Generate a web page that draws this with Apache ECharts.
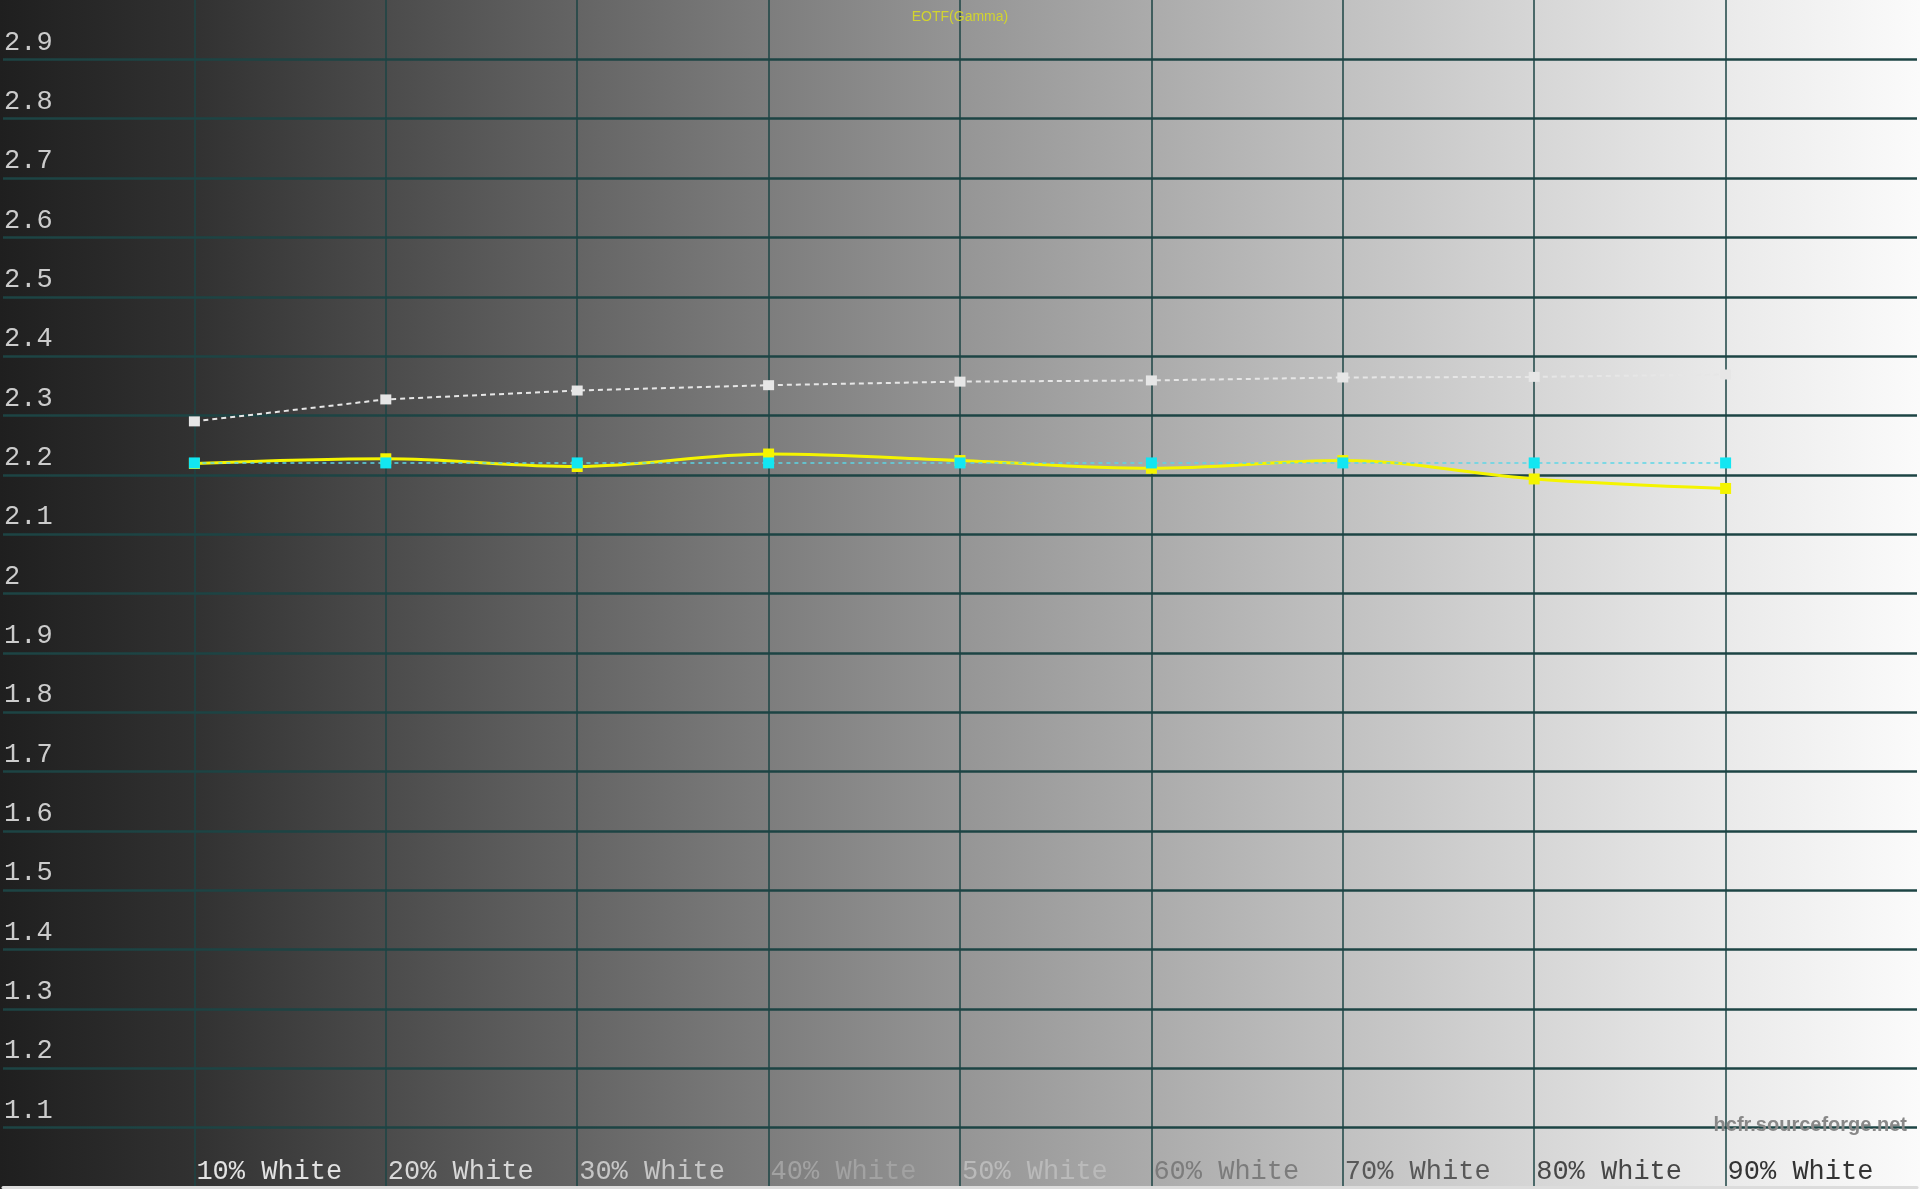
<!DOCTYPE html>
<html>
<head>
<meta charset="utf-8">
<script src="https://cdn.jsdelivr.net/npm/echarts@6/dist/echarts.min.js"></script>
<style>
html,body{margin:0;padding:0;width:1920px;height:1189px;overflow:hidden;}
#c{width:1920px;height:1189px;background:linear-gradient(to right,#1f1f1f 0%,#313131 10%,#4b4b4b 20%,#646464 30%,#7d7d7d 40%,#959595 50%,#ababab 60%,#c1c1c1 70%,#d6d6d6 80%,#eaeaea 90%,#fbfbfb 100%);}
</style>
</head>
<body>
<div id="c"></div>
<script>
// Stimulus levels (% white)
const levels = [10, 20, 30, 40, 50, 60, 70, 80, 90];
const levelLabelColors = ['#e2e2e2', '#d8d8d8', '#c6c6c6', '#a2a2a2', '#bababa', '#7c7c7c', '#585858', '#464646', '#333333'];
// Measured gamma (yellow)
const measured = [2.219, 2.227, 2.214, 2.235, 2.224, 2.211, 2.224, 2.193, 2.177];
// Target gamma (cyan)
const target = [2.22, 2.22, 2.22, 2.22, 2.22, 2.22, 2.22, 2.22, 2.22];
// Reference gamma (white, dashed)
const reference = [2.29, 2.327, 2.342, 2.351, 2.357, 2.359, 2.364, 2.365, 2.369];
const titleText = 'EOTF(Gamma)';
const watermark = 'hcfr.sourceforge.net';

const pairs = arr => levels.map((l, i) => [l, arr[i]]);
const chart = echarts.init(document.getElementById('c'), null, {renderer: 'canvas'});
const gridColor = '#1d4444';
chart.setOption({
  backgroundColor: 'transparent',
  animation: false,
  title: {
    text: titleText, left: 'center', top: 5,
    textStyle: {color: '#d2d42e', fontSize: 14, fontWeight: 'normal', fontFamily: 'Liberation Sans'}
  },
  graphic: [{
    type: 'text', right: 13, top: 1115, z: 100,
    style: {text: watermark, fill: '#888888', font: 'bold 20px "Liberation Sans Narrow", "Liberation Sans"'}
  }],
  grid: {left: 0, right: 0, top: -1, bottom: 2, containLabel: false},
  xAxis: {
    type: 'value', min: 0, max: 100, interval: 10,
    axisLine: {show: true, lineStyle: {color: '#dcdcdc', width: 3}},
    axisTick: {show: false},
    splitLine: {show: true, showMinLine: false, showMaxLine: false, lineStyle: {color: gridColor, width: 1.5}},
    axisLabel: {
      inside: true, margin: 2, align: 'left', padding: [0, 0, 0, 2],
      fontFamily: 'Liberation Mono', fontSize: 27,
      formatter: v => (v > 0 && v < 100) ? v + '% White' : '',
      color: v => { const i = levels.indexOf(Math.round(+v)); return i >= 0 ? levelLabelColors[i] : '#ccc'; }
    }
  },
  yAxis: {
    type: 'value', min: 1, max: 3, interval: 0.1,
    axisLine: {show: false}, axisTick: {show: false},
    splitLine: {show: true, showMinLine: false, showMaxLine: false, lineStyle: {color: gridColor, width: 2.5}},
    axisLabel: {
      inside: true, margin: 1, align: 'left', verticalAlign: 'bottom', lineHeight: 34,
      fontFamily: 'Liberation Mono', fontSize: 27, color: '#cccccc',
      formatter: v => (v < 1.05 || v > 2.95) ? '' : String(+(+v).toFixed(1))
    }
  },
  series: [
    {
      name: 'reference', type: 'line', data: pairs(reference), z: 3,
      symbol: 'rect', symbolSize: [11, 10],
      itemStyle: {color: '#e6e6e6'},
      lineStyle: {color: '#e6e6e6', width: 2, type: [5, 4]}
    },
    {
      name: 'measured', type: 'line', data: pairs(measured), z: 4, smooth: 0.35,
      symbol: 'rect', symbolSize: 11,
      itemStyle: {color: '#f4f400'},
      lineStyle: {color: '#f4f400', width: 3}
    },
    {
      name: 'target', type: 'line', data: pairs(target), z: 5,
      symbol: 'rect', symbolSize: 11,
      itemStyle: {color: '#12e6f2'},
      lineStyle: {color: '#5cd6e6', width: 1.5, type: [4, 4]}
    }
  ]
});
</script>
</body>
</html>
